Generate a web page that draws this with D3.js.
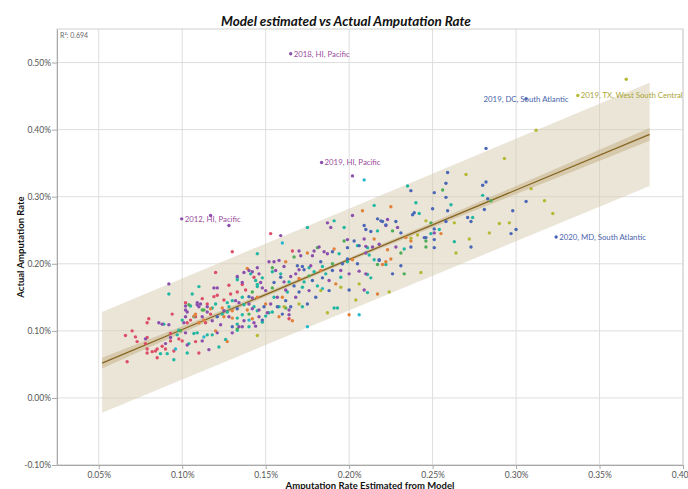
<!DOCTYPE html>
<html>
<head>
<meta charset="utf-8">
<script src="https://cdn.jsdelivr.net/npm/d3@7"></script>
<style>
  body { margin: 0; background: #fff; }
  svg { display: block; font-family: Lato, "Open Sans", sans-serif; }
</style>
</head>
<body>
<div id="chart"></div>
<script>
// tick values (percent)
const xTicks = [0.05, 0.10, 0.15, 0.20, 0.25, 0.30, 0.35, 0.40];
const yTicks = [-0.10, 0.00, 0.10, 0.20, 0.30, 0.40, 0.50];

// points per census division: [model estimate %, actual rate %]
const mountain = [[0.066,0.093],[0.070,0.100],[0.072,0.091],[0.073,0.084],[0.067,0.054],[0.078,0.081],[0.079,0.073],[0.079,0.090],[0.079,0.112],[0.080,0.118],[0.079,0.067],[0.082,0.069],[0.084,0.070],[0.085,0.060],[0.085,0.073],[0.090,0.073],[0.094,0.125],[0.095,0.070],[0.093,0.096],[0.093,0.085],[0.105,0.116],[0.108,0.084],[0.110,0.067],[0.108,0.121],[0.117,0.125],[0.114,0.112],[0.130,0.218],[0.120,0.187],[0.119,0.151],[0.121,0.153],[0.112,0.148],[0.133,0.158],[0.129,0.155],[0.153,0.245],[0.166,0.219],[0.136,0.169],[0.164,0.118],[0.102,0.142],[0.103,0.112],[0.125,0.146],[0.138,0.161],[0.088,0.077],[0.098,0.088],[0.115,0.140],[0.128,0.168],[0.143,0.180],[0.100,0.085]];

const pacific = [[0.165,0.513],[0.1835,0.351],[0.0997,0.267],[0.117,0.272],[0.128,0.257],[0.202,0.331],[0.078,0.088],[0.086,0.112],[0.088,0.110],[0.090,0.081],[0.092,0.109],[0.092,0.170],[0.093,0.090],[0.102,0.097],[0.101,0.112],[0.103,0.079],[0.112,0.085],[0.102,0.137],[0.103,0.128],[0.109,0.139],[0.121,0.164],[0.109,0.142],[0.110,0.136],[0.102,0.131],[0.102,0.121],[0.112,0.121],[0.115,0.136],[0.115,0.128],[0.133,0.181],[0.136,0.172],[0.137,0.187],[0.140,0.190],[0.142,0.188],[0.146,0.185],[0.145,0.194],[0.147,0.172],[0.148,0.164],[0.142,0.149],[0.132,0.145],[0.134,0.142],[0.142,0.133],[0.146,0.131],[0.151,0.127],[0.128,0.121],[0.137,0.115],[0.146,0.121],[0.123,0.109],[0.136,0.106],[0.144,0.107],[0.116,0.072],[0.121,0.097],[0.130,0.097],[0.134,0.106],[0.143,0.112],[0.164,0.124],[0.164,0.131],[0.159,0.242],[0.170,0.219],[0.171,0.212],[0.178,0.212],[0.179,0.219],[0.182,0.225],[0.187,0.261],[0.152,0.203],[0.155,0.203],[0.158,0.205],[0.161,0.196],[0.156,0.190],[0.165,0.181],[0.170,0.191],[0.168,0.185],[0.177,0.197],[0.162,0.161],[0.161,0.173],[0.119,0.164],[0.202,0.272],[0.189,0.254],[0.199,0.236],[0.209,0.237],[0.210,0.216],[0.223,0.266],[0.222,0.257],[0.229,0.254],[0.210,0.226],[0.214,0.225],[0.218,0.229],[0.251,0.246],[0.210,0.185],[0.206,0.189],[0.209,0.161],[0.200,0.185],[0.228,0.225],[0.187,0.215],[0.185,0.218],[0.111,0.140],[0.150,0.160],[0.157,0.150],[0.168,0.150],[0.176,0.160],[0.188,0.175],[0.195,0.190],[0.125,0.130],[0.118,0.115],[0.140,0.140],[0.153,0.140]];

const newEngland = [[0.087,0.066],[0.089,0.110],[0.091,0.066],[0.095,0.057],[0.092,0.155],[0.106,0.155],[0.110,0.166],[0.097,0.094],[0.098,0.101],[0.103,0.067],[0.109,0.097],[0.107,0.096],[0.107,0.121],[0.145,0.215],[0.105,0.137],[0.100,0.116],[0.118,0.134],[0.133,0.176],[0.141,0.185],[0.144,0.175],[0.145,0.169],[0.130,0.145],[0.127,0.142],[0.128,0.136],[0.137,0.139],[0.143,0.136],[0.145,0.130],[0.124,0.125],[0.133,0.119],[0.136,0.124],[0.148,0.113],[0.133,0.110],[0.140,0.106],[0.104,0.081],[0.122,0.076],[0.126,0.087],[0.118,0.094],[0.115,0.094],[0.133,0.101],[0.150,0.122],[0.152,0.127],[0.154,0.128],[0.191,0.134],[0.175,0.254],[0.154,0.188],[0.159,0.185],[0.176,0.194],[0.179,0.188],[0.184,0.196],[0.148,0.179],[0.133,0.179],[0.145,0.166],[0.164,0.173],[0.173,0.173],[0.181,0.167],[0.215,0.287],[0.191,0.264],[0.197,0.254],[0.217,0.249],[0.211,0.224],[0.194,0.215],[0.205,0.227],[0.199,0.203],[0.212,0.213],[0.235,0.316],[0.240,0.291],[0.242,0.275],[0.254,0.251],[0.263,0.233],[0.280,0.302],[0.274,0.269],[0.261,0.288],[0.222,0.199],[0.215,0.206],[0.211,0.184],[0.213,0.179],[0.211,0.157],[0.233,0.222],[0.249,0.245],[0.172,0.136],[0.158,0.136],[0.193,0.134],[0.155,0.150],[0.163,0.158],[0.172,0.165],[0.186,0.185],[0.195,0.180],[0.120,0.140],[0.127,0.128],[0.136,0.150]];

const midAtlantic = [[0.096,0.073],[0.113,0.091],[0.140,0.116],[0.175,0.106],[0.206,0.124],[0.160,0.231],[0.209,0.325],[0.184,0.163]];

const southAtlantic = [[0.306,0.446],[0.324,0.240],[0.140,0.151],[0.133,0.133],[0.149,0.136],[0.121,0.121],[0.130,0.106],[0.148,0.116],[0.157,0.136],[0.160,0.125],[0.175,0.140],[0.169,0.197],[0.172,0.196],[0.173,0.191],[0.159,0.180],[0.155,0.172],[0.167,0.167],[0.170,0.158],[0.184,0.179],[0.183,0.203],[0.217,0.267],[0.219,0.264],[0.209,0.257],[0.210,0.251],[0.213,0.248],[0.203,0.234],[0.206,0.227],[0.199,0.224],[0.199,0.207],[0.218,0.206],[0.190,0.218],[0.259,0.336],[0.258,0.320],[0.237,0.309],[0.251,0.306],[0.258,0.299],[0.250,0.282],[0.259,0.279],[0.239,0.276],[0.238,0.273],[0.228,0.263],[0.222,0.258],[0.220,0.263],[0.251,0.252],[0.258,0.263],[0.231,0.246],[0.245,0.239],[0.251,0.236],[0.237,0.225],[0.251,0.224],[0.282,0.372],[0.282,0.322],[0.280,0.317],[0.283,0.297],[0.306,0.293],[0.281,0.281],[0.298,0.279],[0.300,0.251],[0.297,0.245],[0.273,0.225],[0.271,0.269],[0.273,0.263],[0.246,0.239],[0.226,0.185],[0.231,0.197],[0.218,0.205],[0.200,0.161],[0.165,0.136],[0.178,0.175],[0.190,0.190],[0.196,0.200],[0.162,0.145],[0.180,0.150],[0.205,0.200],[0.188,0.160]];

const eastNorthCentral = [[0.108,0.125],[0.113,0.116],[0.107,0.122],[0.117,0.133],[0.110,0.112],[0.139,0.193],[0.124,0.134],[0.139,0.131],[0.125,0.121],[0.130,0.119],[0.142,0.118],[0.127,0.084],[0.158,0.121],[0.175,0.216],[0.162,0.203],[0.208,0.279],[0.191,0.222],[0.202,0.206],[0.222,0.203],[0.215,0.237],[0.225,0.285],[0.237,0.234],[0.234,0.239],[0.255,0.245],[0.217,0.155],[0.225,0.207],[0.220,0.199],[0.223,0.221],[0.200,0.124],[0.166,0.115],[0.145,0.150],[0.160,0.150],[0.170,0.178],[0.183,0.190],[0.150,0.140],[0.130,0.130],[0.192,0.170],[0.120,0.100]];

const westNorthCentral = [[0.099,0.100],[0.112,0.131],[0.104,0.139],[0.113,0.131],[0.142,0.158],[0.133,0.103],[0.167,0.210],[0.154,0.194],[0.154,0.164],[0.181,0.224],[0.197,0.234],[0.256,0.310],[0.249,0.261],[0.226,0.249],[0.233,0.185],[0.217,0.199],[0.231,0.216],[0.246,0.234],[0.246,0.225],[0.285,0.294],[0.162,0.134],[0.176,0.182],[0.140,0.125],[0.190,0.200]];

const westSouthCentral = [[0.337,0.451],[0.366,0.475],[0.312,0.399],[0.293,0.357],[0.270,0.333],[0.309,0.312],[0.317,0.294],[0.322,0.275],[0.296,0.261],[0.290,0.260],[0.284,0.246],[0.272,0.237],[0.264,0.216],[0.243,0.187],[0.224,0.158],[0.246,0.264],[0.263,0.261],[0.241,0.243],[0.237,0.238],[0.206,0.170],[0.145,0.093],[0.161,0.136],[0.170,0.140],[0.187,0.127],[0.204,0.146],[0.183,0.160],[0.195,0.165]];

const groups = [
  {name: 'Mountain', pts: mountain, color: '#dc4d68'},
  {name: 'New England', pts: newEngland, color: '#22b7a2'},
  {name: 'Middle Atlantic', pts: midAtlantic, color: '#27b8cc'},
  {name: 'East North Central', pts: eastNorthCentral, color: '#e2813a'},
  {name: 'West North Central', pts: westNorthCentral, color: '#4eae55'},
  {name: 'Pacific', pts: pacific, color: '#8b4fae'},
  {name: 'South Atlantic', pts: southAtlantic, color: '#4a66b6'},
  {name: 'West South Central', pts: westSouthCentral, color: '#b5b934'}
];

// trend line and bands
const trendX = [0.052, 0.10, 0.15, 0.19, 0.25, 0.30, 0.38];
const trendY = [0.052, 0.102, 0.154, 0.196, 0.258, 0.310, 0.393];
const confHalf = [0.008, 0.005, 0.003, 0.0025, 0.004, 0.006, 0.0095];
const predX = [0.052, 0.38];
const predUpper = [0.128, 0.470];
const predLower = [-0.022, 0.316];

const annotations = [
  {label: '2018, HI, Pacific', x: 0.165, y: 0.513, color: '#9a4c9c', anchor: 'start'},
  {label: '2019, HI, Pacific', x: 0.1835, y: 0.351, color: '#9a4c9c', anchor: 'start'},
  {label: '2012, HI, Pacific', x: 0.0997, y: 0.267, color: '#9a4c9c', anchor: 'start'},
  {label: '2019, DC, South Atlantic', x: 0.306, y: 0.446, color: '#4a64aa', anchor: 'middle'},
  {label: '2019, TX, West South Central', x: 0.337, y: 0.451, color: '#a9a536', anchor: 'start'},
  {label: '2020, MD, South Atlantic', x: 0.324, y: 0.240, color: '#4a64aa', anchor: 'start'}
];

const width = 688, height = 489;
const margin = {top: 29, right: 5, bottom: 24, left: 57};

const svg = d3.select('#chart').append('svg')
  .attr('width', width)
  .attr('height', height);

const x = d3.scaleLinear().domain([0.025, 0.40]).range([margin.left, width - margin.right]);
const y = d3.scaleLinear().domain([-0.10, 0.55]).range([height - margin.bottom, margin.top]);

const fmt = d => d.toFixed(2) + '%';

// grid
const grid = svg.append('g');
grid.selectAll('.vx').data(xTicks).enter().append('line')
  .attr('x1', d => x(d)).attr('x2', d => x(d))
  .attr('y1', y(0.55)).attr('y2', y(-0.10))
  .attr('stroke', '#dedede');
grid.selectAll('.hy').data(yTicks).enter().append('line')
  .attr('x1', x(0.025)).attr('x2', x(0.40))
  .attr('y1', d => y(d)).attr('y2', d => y(d))
  .attr('stroke', '#dedede');
svg.append('rect')
  .attr('x', x(0.025)).attr('y', y(0.55))
  .attr('width', x(0.40) - x(0.025)).attr('height', y(-0.10) - y(0.55))
  .attr('fill', 'none').attr('stroke', '#d0d0d0');

// prediction band
const predData = predX.map((d, i) => ({x: d, lo: predLower[i], hi: predUpper[i]}));
svg.append('path')
  .datum(predData)
  .attr('fill', '#d8ccb2')
  .attr('fill-opacity', 0.5)
  .attr('d', d3.area().x(d => x(d.x)).y0(d => y(d.lo)).y1(d => y(d.hi)));

// confidence band
const confData = trendX.map((d, i) => ({x: d, lo: trendY[i] - confHalf[i], hi: trendY[i] + confHalf[i]}));
svg.append('path')
  .datum(confData)
  .attr('fill', '#c8b58f')
  .attr('fill-opacity', 0.6)
  .attr('d', d3.area().curve(d3.curveMonotoneX).x(d => x(d.x)).y0(d => y(d.lo)).y1(d => y(d.hi)));

// trend line
svg.append('path')
  .datum(trendX.map((d, i) => [d, trendY[i]]))
  .attr('fill', 'none')
  .attr('stroke', '#876520')
  .attr('stroke-width', 1.3)
  .attr('d', d3.line().x(d => x(d[0])).y(d => y(d[1])));

// points
groups.forEach(g => {
  svg.append('g').selectAll('circle')
    .data(g.pts)
    .enter().append('circle')
    .attr('cx', d => x(d[0]))
    .attr('cy', d => y(d[1]))
    .attr('r', 1.7)
    .attr('fill', g.color);
});

// axes
const xAxis = svg.append('g')
  .attr('transform', `translate(0,${y(-0.10)})`)
  .call(d3.axisBottom(x).tickValues(xTicks).tickFormat(fmt).tickSize(4).tickSizeOuter(0).tickPadding(3));
const yAxis = svg.append('g')
  .attr('transform', `translate(${x(0.025)},0)`)
  .call(d3.axisLeft(y).tickValues(yTicks).tickFormat(fmt).tickSize(5).tickSizeOuter(0).tickPadding(1));
[xAxis, yAxis].forEach(a => {
  a.select('.domain').attr('stroke', '#a8a8a8');
  a.selectAll('.tick line').attr('stroke', '#a8a8a8');
  a.selectAll('.tick text').attr('fill', '#555').style('font-size', '8.5px').style('font-family', 'Lato, sans-serif');
});

// annotations
annotations.forEach(a => {
  svg.append('text')
    .attr('x', a.anchor === 'middle' ? x(a.x) : x(a.x) + 3)
    .attr('y', y(a.y) + 3)
    .attr('text-anchor', a.anchor)
    .attr('fill', a.color)
    .style('font-size', '7.8px')
    .text(a.label);
});

// R squared
svg.append('text')
  .attr('x', x(0.025) + 3)
  .attr('y', 38)
  .attr('fill', '#666')
  .style('font-size', '7px')
  .text('R²: 0.694');

// titles
svg.append('text')
  .attr('x', width / 2 + 2)
  .attr('y', 26)
  .attr('text-anchor', 'middle')
  .style('font-size', '13.5px')
  .style('font-weight', 'bold')
  .style('font-style', 'italic')
  .attr('fill', '#111')
  .text('Model estimated vs Actual Amputation Rate');

svg.append('text')
  .attr('x', (x(0.025) + x(0.40)) / 2)
  .attr('y', 489)
  .attr('text-anchor', 'middle')
  .style('font-size', '9.5px')
  .style('font-weight', 'bold')
  .attr('fill', '#111')
  .text('Amputation Rate Estimated from Model');

svg.append('text')
  .attr('transform', `translate(24,${(y(0.55) + y(-0.10)) / 2}) rotate(-90)`)
  .attr('text-anchor', 'middle')
  .style('font-size', '9.5px')
  .style('font-weight', 'bold')
  .attr('fill', '#111')
  .text('Actual Amputation Rate');
</script>
</body>
</html>
